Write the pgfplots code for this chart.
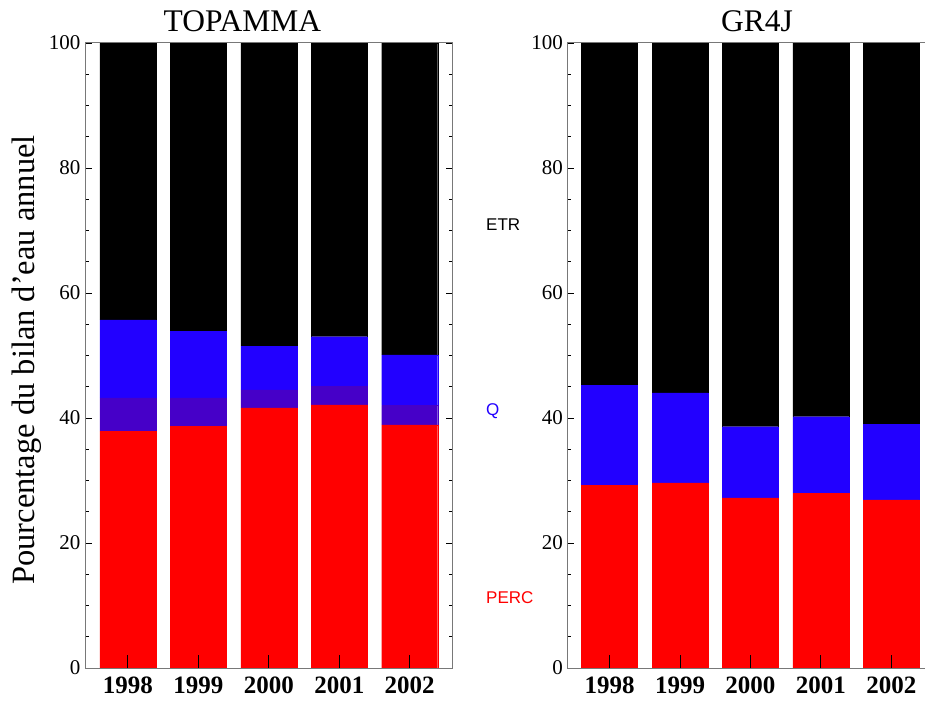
\documentclass[border=0pt]{standalone}
\usepackage{fontspec}
\setmainfont{Liberation Serif}
\newfontfamily\labfont{Liberation Sans}
\usepackage{pgfplots}
\pgfplotsset{compat=1.18}
\definecolor{cred}{RGB}{255,0,0}
\definecolor{cpur}{RGB}{70,0,200}
\definecolor{cblue}{RGB}{34,0,255}
\definecolor{axgray}{RGB}{120,120,120}
\pgfplotsset{
  panel/.style={
    scale only axis, width=367.7pt, height=625pt,
    anchor=south west, clip=false,
    ybar stacked, bar width=56pt,
    ymin=0, ymax=100,
    ytick={0,20,40,60,80,100},
    minor y tick num=3,
    xtick={1,2,3,4,5},
    xticklabels={1998,1999,2000,2001,2002},
    xtick pos=bottom, ytick pos=both,
    tick align=inside,
    major tick length=7pt, minor tick length=3.5pt,
    axis line style={axgray, line width=1pt},
    every tick/.style={black, line width=0.8pt},
    xtick style={black, line width=1pt, /pgfplots/major tick length=13pt},
    /pgf/number format/assume math mode=true,
    yticklabel style={font=\fontsize{21}{21}\selectfont, xshift=-1pt},
    xticklabel style={font=\fontsize{25}{25}\selectfont\bfseries, yshift=-5pt},
    axis on top,
  }
}
\begin{document}
\begin{tikzpicture}[x=1pt,y=1pt]
\begin{axis}[panel, at={(85pt,36pt)}, xmin=0.39, xmax=5.61]
\addplot[fill=cred, draw=cred] coordinates {(1,37.9) (2,38.7) (3,41.6) (4,42.1) (5,38.9)};
\addplot[fill=cpur, draw=cpur] coordinates {(1,5.3) (2,4.5) (3,2.9) (4,3.0) (5,3.1)};
\addplot[fill=cblue, draw=cblue] coordinates {(1,12.5) (2,10.7) (3,7.0) (4,7.9) (5,8.1)};
\addplot[fill=black, draw=black] coordinates {(1,44.3) (2,46.1) (3,48.5) (4,47.0) (5,49.9)};
\draw[black, line width=1pt] (rel axis cs:0,0) -- (rel axis cs:1,0);
\node[anchor=base, font=\fontsize{31.5}{31.5}\selectfont] at ([yshift=11pt]rel axis cs:0.428,1) {TOPAMMA};
\node[rotate=90, font=\fontsize{32.5}{32.5}\selectfont] at ([xshift=-58pt]rel axis cs:0,0.493) {Pourcentage du bilan d'eau annuel};
\node[anchor=west, font=\labfont\fontsize{17}{17}\selectfont, text=black, inner sep=0pt] at (rel axis cs:1.0906,0.709) {ETR};
\node[anchor=west, font=\labfont\fontsize{17}{17}\selectfont, text=cblue, inner sep=0pt] at (rel axis cs:1.0906,0.411) {Q};
\node[anchor=west, font=\labfont\fontsize{17}{17}\selectfont, text=cred, inner sep=0pt] at (rel axis cs:1.0906,0.112) {PERC};
\end{axis}
\begin{axis}[panel, at={(567.3pt,36pt)}, xmin=0.40, xmax=5.62]
\addplot[fill=cred, draw=cred] coordinates {(1,29.2) (2,29.6) (3,27.2) (4,27.9) (5,26.9)};
\addplot[fill=cblue, draw=cblue] coordinates {(1,16.0) (2,14.4) (3,11.4) (4,12.3) (5,12.1)};
\addplot[fill=black, draw=black] coordinates {(1,54.8) (2,56.0) (3,61.4) (4,59.8) (5,61.0)};
\draw[black, line width=1pt] (rel axis cs:0,0) -- (rel axis cs:1,0);
\node[anchor=base, font=\fontsize{31.5}{31.5}\selectfont] at ([yshift=11pt]rel axis cs:0.516,1) {GR4J};
\end{axis}
\pgfresetboundingbox
\path (0pt,0pt) rectangle (925pt,704pt);
\end{tikzpicture}
\end{document}
